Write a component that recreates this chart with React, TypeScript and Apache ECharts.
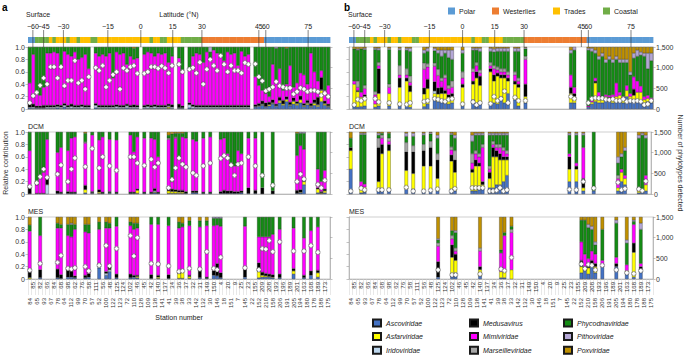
import React, { useEffect, useRef } from 'react';
import * as echarts from 'echarts';

const FONT = '"Liberation Sans", Arial, Helvetica, sans-serif';

// ---------- stations (x categories) ----------
const stationsLow = [84,65,93,67,78,64,112,99,70,57,52,100,122,123,72,110,128,109,138,141,41,39,38,33,142,132,30,146,18,151,7,145,22,152,210,158,206,191,205,194,180,178,188,175];
const stationsHigh = [85,82,66,84,68,98,62,76,58,111,56,48,125,124,102,46,45,42,140,137,34,36,37,32,31,149,150,4,20,9,25,23,155,209,208,193,196,189,201,163,168,189,173];
const stations: string[] = [];
for (let i = 0; i < stationsLow.length; i++) {
  stations.push(String(stationsLow[i]));
  if (i < stationsHigh.length) stations.push(String(stationsHigh[i]));
}

// biome of each station: P polar, W westerlies, T trades, C coastal
const biome = ['P','P','C','C','C','C','T','C','T','T','T','C','T','T','C','T','T','T','C','C',
  'T','T','T','T','T','T','T','T','T','T','T','T','T','T','T','C','T','T','C','C',
  'T','T','T','T','C','C','C','C','C','C','W','W','W','W','W','W','W','W','W','W',
  'W','W','W','W','W','W','W','W','P','P','P','P','P','P','P','P','P','P','P','P',
  'P','P','P','P','P','P','P'];
const biomeKeys = ['P','W','T','C'];
const biomeNames = ['Polar','Westerlies','Trades','Coastal'];
const biomeColors = ['#5b9bd5','#ed7d31','#ffc000','#70ad47'];

const latTickPos = [0.9, 4, 9.7, 22.5, 32, 41.2, 49.6, 66, 68, 80.2];
const latTickLabels = ['\u221260','\u221245','\u221230','\u221215','0','15','30','45','60','75'];

const families = ['Ascoviridae','Asfarviridae','Iridoviridae','Medusavirus','Mimiviridae','Marseilleviridae','Phycodnaviridae','Pithoviridae','Poxviridae'];
const familyColors = ['#4472c4','#ffff00','#bdd7ee','#000000','#ff00ff','#a6a6a6','#148c14','#b4a7d6','#bf9000'];

// ---------- a: Surface (relative contribution, %) ----------
const aSurfIdx = [0,1,2,3,4,5,6,7,8,9,10,11,12,13,14,15,16,17,19,20,21,22,23,24,25,26,27,28,29,30,31,33,34,35,36,37,38,39,40,41,43,44,46,47,48,49,50,51,52,53,54,55,56,57,58,59,60,61,62,63,65,66,67,68,69,70,71,72,73,74,75,76,77,78,79,80,81,82,83,84,85,86];
const aSurfAsco = [2,1,1,1,1,1,1,1,2,1,3,1,1,1,1,1,1,1, 2,1,1,1,1,1,1,1,1,2,1,1,1, 1,1,1,1,1,1,1,1,1, 1,1, 2,1,1,1,1,1,1,1,1,1,1,1,1,1,1,1,1,1, 3,4,6,3,5,8,4,10,6,12,5,8,6,10,4,7,3,6,4,12,6,3];
const aSurfAsfar = [0,0,0,0,0,0,0,0,0,0,0,0,0,0,0,0,0,0, 0,0,0,0,0,0,0,0,0,0,0,0,0, 0,0,0,0,0,0,0,2,0, 0,0, 0,0,0,0,0,0,0,0,0,0,0,0,0,0,0,0,0,0, 0,0,1,0,2,1,0,3,2,3,1,4,2,5,1,2,1,3,2,18,2,1];
const aSurfIrido = [1,2,1,1,1,2,2,2,2,2,3,2,3,2,2,3,2,2, 4,2,2,2,2,2,3,2,2,3,2,2,2, 2,3,2,3,2,2,2,2,2, 1,1, 5,3,2,2,2,2,2,2,2,2,2,2,2,2,2,2,2,2, 1,1,1,1,0,1,1,1,0,1,1,1,1,0,1,1,1,1,1,1,1,1];
const aSurfMedusa = [6,5,3,3,4,3,3,3,3,3,3,3,4,3,3,3,3,3, 3,3,3,3,3,3,3,3,3,3,3,4,3, 3,3,3,3,3,3,3,3,4, 6,3, 3,3,3,3,3,3,3,3,3,3,3,3,3,3,3,3,3,3, 3,4,5,6,4,5,3,5,6,4,4,5,3,6,3,4,4,5,12,20,4,3];
const aSurfMimi = [33,80,20,17,29,84,84,86,83,62,84,82,77,86,74,76,82,59, 81,79,82,79,84,44,85,82,84,64,79,73,76, 82,85,84,78,84,82,84,67,78, 74,57, 55,78,84,82,69,86,76,89,84,79,72,86,82,84,64,87,79,82, 45,29,17,15,9,57,37,46,16,20,59,17,30,37,46,26,81,45,26,11,17,30];
const aSurfPhyco = [58,12,75,78,65,10,10,8,10,32,7,12,15,8,20,17,12,35, 10,15,12,15,10,50,8,12,10,28,15,18,18, 12,8,10,15,10,12,10,25,15, 18,38, 35,15,10,12,25,8,10,5,10,15,22,8,12,10,30,7,15,12, 48,62,70,75,80,28,53,35,70,58,30,65,58,42,45,60,10,40,55,38,70,62];
const aSurfPitho = [0,0,0,0,0,0,0,0,0,0,0,0,0,0,0,0,0,0, 0,0,0,0,0,0,0,0,0,0,0,0,0, 0,0,0,0,0,0,0,0,0, 0,0, 0,0,0,0,0,0,8,0,0,0,0,0,0,0,0,0,0,0, 0,0,0,0,0,0,2,0,0,0,0,0,0,0,0,0,0,0,0,0,0,0];
const aSurfPox = [0,0,0,0,0,0,0,0,0,0,0,0,0,0,0,0,0,0, 0,0,0,0,0,0,0,0,0,0,0,2,0, 0,0,0,0,0,0,0,0,0, 0,0, 0,0,0,0,0,0,0,0,0,0,0,0,0,0,0,0,0,0, 0,0,0,0,0,0,0,0,0,2,0,0,0,0,0,0,0,0,0,0,0,0];
const aSurfDots = [150,320,400,570,750,600,1020,1020,750,1020,560,690,690,1170,630,690,480,780, 1000,930,1050,530,690,830,900,480,990,930,1020,1050,860, 860,900,1020,1020,980,1040,990,870,1050, 1080,900, 960,1000,870,1130,600,960,1200,1050,930,1290,1080,900,1050,930,930,870,1120,1080, 1090,780,680,440,480,530,660,560,530,500,510,360,420,510,480,420,450,450,420,330,380,300];

// ---------- a: DCM ----------
const aDcmIdx = [0,2,3,4,5,8,9,11,12,13,16,18,20,21,23,25,29,30,31,33,35,36,37,40,41,42,43,44,45,47,48,50,52,55,56,57,58,59,60,61,63,65,67,70,77,78,79,83,84,85];
const aDcmAsco = [0,0,0,0,0,1,1,1,1,1, 2,1,1,1,1,1,1,1,1,1, 1,2,1,1,1,1,1,1,1,2, 2,1,1,1,1,1,1,1,1,2, 1,1,0,0,1,2,15,2,1,2];
const aDcmAsfar = [0,0,0,0,0,0,0,0,0,0, 5,0,2,0,0,0,0,0,5,0, 0,1,0,4,3,3,2,2,0,0, 0,0,0,0,0,0,0,0,0,0, 0,0,0,0,0,1,5,6,1,3];
const aDcmIrido = [0,0,0,0,15,0,0,0,0,0, 0,1,0,0,1,0,0,0,0,0, 0,2,0,0,0,0,0,0,0,0, 0,0,0,0,0,0,0,0,0,0, 0,0,0,0,0,0,0,0,0,0];
const aDcmMedusa = [10,1,1,1,10,4,2,3,2,2, 7,2,4,2,2,2,2,2,2,2, 2,4,2,6,4,3,3,3,3,3, 3,2,2,3,5,4,4,3,3,3, 9,5,10,5,5,4,2,2,2,3];
const aDcmMimi = [60,14,24,34,63,62,72,66,87,89, 68,91,80,89,84,84,92,65,84,87, 87,79,57,77,12,83,54,86,86,83, 80,87,89,84,84,60,45,41,66,60, 80,84,0,0,56,71,50,30,16,30];
const aDcmMarse = [0,0,0,0,0,0,0,0,0,0, 2,0,0,0,0,0,0,0,0,0, 0,0,0,2,0,2,0,0,0,0, 0,0,0,0,0,0,0,0,0,0, 0,0,0,0,0,0,0,0,0,0];
const aDcmPhyco = [30,85,75,65,12,33,25,30,10,8, 14,5,13,8,12,13,5,32,8,10, 10,12,40,5,77,6,38,6,10,12, 15,10,8,12,10,35,50,55,30,35, 10,10,90,95,36,20,26,60,80,62];
const aDcmPitho = [0,0,0,0,0,0,0,0,0,0, 0,0,0,0,0,0,0,0,0,0, 0,0,0,0,0,0,0,0,0,0, 0,0,0,0,0,0,0,0,0,0, 0,0,0,0,0,2,2,0,0,0];
const aDcmPox = [0,0,0,0,0,0,0,0,0,0, 2,0,0,0,0,0,0,0,0,0, 0,0,0,5,3,2,2,2,0,0, 0,0,0,0,0,0,0,0,0,0, 0,0,0,0,2,0,0,0,0,0];
const aDcmDots = [180,270,420,600,400,480,700,300,600,870, 660,1100,630,900,680,570,900,900,750,690, 840,650,750,150,350,630,870,720,650,510, 450,680,750,860,930,870,700,450,720,750, 900,680,450,210,300,480,360,230,150,330];

// ---------- a: MES ----------
const aMesIdx = [0,3,8,9,11,12,13,16,17,20,22,23,25,29,30,31,35,37,40,43,44,46,49,51,53,54,55,62,66,67,68,69,70,72,76,79,81,83];
const aMesAsco = [0,2,2,1,3,3,2,2,3,18, 6,12,2,2,3,2,1,1,1,1, 1,1,2,1,6,5,2,3,2,3, 3,3,2,2,8,2,6,3];
const aMesAsfar = [2,0,0,0,0,0,0,0,0,0, 0,0,0,0,0,2,0,2,0,8, 12,3,0,0,0,0,0,0,10,3, 2,1,1,0,5,0,0,7];
const aMesIrido = [0,0,0,0,0,0,0,0,0,4, 3,3,0,0,0,0,0,0,0,0, 0,0,0,0,0,0,0,0,0,0, 0,0,0,0,0,0,0,0];
const aMesMedusa = [10,13,14,6,12,10,3,4,6,3, 3,5,6,6,3,2,6,3,6,1, 1,2,12,2,8,20,8,12,14,5, 4,4,4,6,4,4,7,4];
const aMesMimi = [65,55,66,75,55,55,75,70,65,55, 70,62,77,78,74,76,81,82,79,72, 70,80,70,83,72,62,75,70,42,57, 59,60,65,72,65,60,65,70];
const aMesPhyco = [10,30,8,6,18,20,8,12,14,12, 10,8,15,6,10,8,12,12,14,10, 6,8,10,8,12,11,13,15,32,32, 32,32,28,20,18,34,22,16];
const aMesPitho = [0,0,0,0,0,2,0,0,0,0, 0,0,0,0,0,0,0,0,0,0, 0,0,0,0,2,2,2,0,0,0, 0,0,0,0,0,0,0,0];
const aMesPox = [13,0,10,12,12,10,12,12,12,8, 8,10,0,8,10,10,0,0,0,8, 10,6,6,6,0,0,0,0,0,0, 0,0,0,0,0,0,0,0];
const aMesDots = [210,375,400,570,255,240,270,300,195,330, 810,315,735,1050,555,1000,375,360,315,180, 195,255,240,660,255,225,525,270,225,735, 720,930,660,900,675,675,810,645];

// ---------- b: Surface ----------
const bSurfIdx = [1,2,3,4,7,8,11,14,16,17,21,22,24,25,26,27,28,29,32,35,36,37,40,41,42,43,44,45,47,48,50,63,64,68,69,70,71,72,73,74,75,76,77,78,79,80,81,82,83,84,85,86];
const bSurfAsco = [5,3,4,5,3,5,5,5,5,3, 4,8,15,12,15,10,8,10,5,15, 10,8,10,10,8,20,10,25,15,5, 10,10,10,3,8,12,10,10,15,12, 10,15,12,10,20,15,12,15,12,10, 12,10];
const bSurfAsfar = [35,25,15,15,5,20,20,30,40,25, 20,25,10,12,10,15,10,10,30,25, 40,30,50,35,45,30,40,20,25,30, 10,15,10,0,3,30,5,5,5,5, 8,5,10,5,10,5,10,12,15,5, 5,3];
const bSurfIrido = [0,0,0,0,0,0,0,0,0,0, 0,0,4,0,0,0,0,0,0,0, 0,0,0,0,0,0,0,0,0,0, 0,0,0,0,0,0,0,0,0,0, 0,0,0,0,0,0,0,0,0,0, 0,0];
const bSurfMedusa = [0,2,0,3,0,40,0,15,5,10, 10,15,15,10,10,5,5,5,5,5, 10,15,5,10,5,5,5,5,5,5, 20,10,5,0,0,3,2,2,0,2, 0,0,0,0,0,0,10,0,0,0, 0,0];
const bSurfMimi = [5,5,8,10,15,5,10,5,5,5, 30,20,25,20,10,20,10,10,10,15, 10,5,5,10,5,5,5,5,10,5, 40,20,10,2,3,5,10,3,3,3, 5,22,5,5,8,5,20,18,10,5, 5,5];
const bSurfMarse = [0,10,0,5,5,5,5,15,10,10, 10,5,5,10,5,5,5,10,10,5, 5,5,5,5,5,5,5,5,5,5, 5,0,0,0,0,0,0,0,0,0, 0,0,0,0,0,0,0,0,0,0, 0,0];
const bSurfPhyco = [52,50,70,58,68,20,56,25,30,40, 16,20,20,26,35,35,45,35,30,30, 20,30,18,22,25,28,28,33,33,43, 12,35,60,90,79,40,53,65,52,58, 52,38,48,55,37,30,30,40,50,65, 43,60];
const bSurfPitho = [0,2,0,2,2,3,2,3,3,5, 5,5,4,5,10,5,12,15,5,3, 3,5,5,5,5,5,5,5,5,5, 2,5,5,3,5,5,5,5,5,5, 5,5,5,5,5,5,8,10,5,5, 25,12];
const bSurfPox = [3,3,3,2,2,2,2,2,2,2, 5,2,2,5,5,5,5,5,5,2, 2,2,2,3,2,2,2,2,2,2, 1,5,0,2,2,5,15,10,20,15, 20,15,20,20,20,40,10,5,8,10, 10,10];
const bSurfDots = [100,230,200,250,250,170,150,120,110,150, 180,200,250,230,200,180,230,250,120,170, 100,150,130,300,200,250,430,150,280,200, 200,300,250,150,250,270,260,260,230,220, 240,200,200,240,180,200,190,200,180,100, 120,200];

// ---------- b: DCM ----------
const bDcmIdx = [0,3,4,8,9,11,16,18,21,23,25,29,30,35,36,37,38,40,41,42,43,44,45,63,65,67,70,77,78,79,83,84,85];
const bDcmAsco = [40,2,3,5,5,5,8,8,5,5, 5,8,5,5,5,10,10,10,10,15, 15,20,30,20,20,5,5,5,20,15, 2,3,5];
const bDcmAsfar = [30,10,8,15,60,65,30,25,40,40, 20,45,30,30,40,35,5,15,50,45, 40,35,25,20,20,5,0,5,15,10, 3,2,10];
const bDcmMedusa = [5,0,0,55,15,10,30,35,25,30, 30,10,20,5,10,5,5,10,15,10, 10,5,5,20,5,15,0,0,0,0, 0,0,0];
const bDcmMimi = [0,8,5,0,10,5,0,0,0,0, 0,8,0,10,10,10,55,5,5,5, 10,10,5,5,5,50,0,15,5,5, 5,2,15];
const bDcmMarse = [0,0,0,15,5,5,15,10,10,10, 10,5,15,15,5,5,5,5,5,5, 5,5,5,0,0,0,0,5,0,0, 0,0,0];
const bDcmPhyco = [15,76,80,5,3,8,10,15,15,12, 25,20,20,20,25,30,15,50,10,15, 15,20,25,30,45,20,95,20,20,40, 80,88,60];
const bDcmPitho = [0,2,2,3,0,0,5,5,3,2, 5,2,5,10,3,3,3,3,3,3, 3,3,3,3,3,3,0,10,5,5, 5,3,5];
const bDcmPox = [10,2,2,2,2,2,2,2,2,1, 5,2,5,5,2,2,2,2,2,2, 2,2,2,2,2,2,0,40,35,25, 5,2,5];
const bDcmDots = [70,140,100,100,100,100,160,70,70,90, 120,70,130,150,150,150,150,70,70,90, 150,70,100,110,100,300,140,280,100,130, 120,80,310];

// ---------- b: MES ----------
const bMesIdx = [25,29,30,37,43,44,46,66,67,68,69,70,72,76,79,81,83];
const bMesAsco = [3,5,10,5,2,2,0,10,15,8,25,10,20,20,8,3,15];
const bMesAsfar = [0,30,20,10,10,10,15,10,0,10,0,10,0,0,5,40,0];
const bMesMedusa = [25,20,10,5,0,3,0,10,5,5,5,5,0,5,0,15,5];
const bMesMimi = [25,10,5,25,30,55,60,30,20,10,15,15,10,10,10,30,5];
const bMesMarse = [5,5,5,5,0,0,5,0,0,0,0,0,0,0,0,0,0];
const bMesPhyco = [5,8,25,0,5,5,5,35,55,50,35,15,50,55,35,5,55];
const bMesPitho = [2,0,3,0,0,0,0,0,0,5,5,5,0,5,5,2,10];
const bMesPox = [35,22,22,50,53,25,15,5,5,12,15,40,20,5,37,5,10];
const bMesDots = [220,100,100,120,240,200,520,360,250,350,330,220,330,220,150,130,200];

type Panel = { idx: number[]; fams: (number[] | null)[]; dots: number[] };
const panels: Panel[] = [
  { idx: aSurfIdx, fams: [aSurfAsco, aSurfAsfar, aSurfIrido, aSurfMedusa, aSurfMimi, null, aSurfPhyco, aSurfPitho, aSurfPox], dots: aSurfDots },
  { idx: aDcmIdx, fams: [aDcmAsco, aDcmAsfar, aDcmIrido, aDcmMedusa, aDcmMimi, aDcmMarse, aDcmPhyco, aDcmPitho, aDcmPox], dots: aDcmDots },
  { idx: aMesIdx, fams: [aMesAsco, aMesAsfar, aMesIrido, aMesMedusa, aMesMimi, null, aMesPhyco, aMesPitho, aMesPox], dots: aMesDots },
  { idx: bSurfIdx, fams: [bSurfAsco, bSurfAsfar, bSurfIrido, bSurfMedusa, bSurfMimi, bSurfMarse, bSurfPhyco, bSurfPitho, bSurfPox], dots: bSurfDots },
  { idx: bDcmIdx, fams: [bDcmAsco, bDcmAsfar, null, bDcmMedusa, bDcmMimi, bDcmMarse, bDcmPhyco, bDcmPitho, bDcmPox], dots: bDcmDots },
  { idx: bMesIdx, fams: [bMesAsco, bMesAsfar, null, bMesMedusa, bMesMimi, bMesMarse, bMesPhyco, bMesPitho, bMesPox], dots: bMesDots },
];

const PANEL_LEFT = [28, 349];
const PANEL_W = [302, 304];
const ROW_TOP = [47, 132, 217];
const ROW_H = 62;
const STRIP_TOP = 37;
const STRIP_H = 6;

const PLUS = 'path://M2,0H6V2H8V6H6V8H2V6H0V2H2Z';

function expand(idx: number[], vals: number[]) {
  const out: (number | null)[] = stations.map(() => null);
  idx.forEach((s, k) => {
    const v = vals[k];
    out[s] = v ? v : null;
  });
  return out;
}

function buildOption() {
  const grid: any[] = [];
  const xAxis: any[] = [];
  const yAxis: any[] = [];
  const series: any[] = [];
  const extraX: any[] = [];

  for (let g = 0; g < 6; g++) {
    const col = Math.floor(g / 3);
    const row = g % 3;
    grid.push({ left: PANEL_LEFT[col], top: ROW_TOP[row], width: PANEL_W[col], height: ROW_H, show: true, borderColor: '#b0b0b0', borderWidth: 0.6 });
    const isBottom = row === 2;
    xAxis.push({
      type: 'category', gridIndex: g, data: stations, boundaryGap: true, position: 'bottom',
      axisLine: { show: true, lineStyle: { color: '#9a9a9a', width: 0.6 } },
      axisTick: isBottom ? { show: true, interval: 0, length: 16, lineStyle: { color: '#d0d0d0', width: 0.5 } } : { show: false },
      axisLabel: isBottom ? {
        show: true, rotate: 90, fontSize: 6, margin: 3, color: '#333', fontFamily: FONT,
        interval: (i: number) => i % 2 === 1,
      } : { show: false },
      splitLine: { show: false },
    });
    if (isBottom) {
      extraX.push({
        type: 'category', gridIndex: g, data: stations, boundaryGap: true, position: 'bottom', offset: 0,
        axisLine: { show: false }, axisTick: { show: false }, splitLine: { show: false },
        axisLabel: { show: true, rotate: 90, fontSize: 6, margin: 19, color: '#333', fontFamily: FONT, interval: (i: number) => i % 2 === 0 },
      });
    }
    yAxis.push({
      type: 'value', gridIndex: g, min: 0, max: 100, interval: 20, position: 'left',
      axisLine: { show: true, lineStyle: { color: '#9a9a9a', width: 0.6 } },
      axisTick: { show: true, length: 2.5, lineStyle: { color: '#9a9a9a', width: 0.6 } },
      axisLabel: col === 0 ? { show: true, fontSize: 7, margin: 3, color: '#333', fontFamily: FONT, formatter: (v: number) => (v === 0 ? '0' : (v / 100).toFixed(1)) } : { show: false },
      splitLine: { show: false },
      ...(g === 1 ? { name: 'Relative contribution', nameLocation: 'middle', nameGap: 19, nameTextStyle: { fontSize: 7, color: '#333', fontFamily: FONT } } : {}),
    });
    yAxis.push({
      type: 'value', gridIndex: g, min: 0, max: 1500, interval: 500, position: 'right',
      axisLine: { show: true, lineStyle: { color: '#9a9a9a', width: 0.6 } },
      axisTick: { show: true, length: 2.5, lineStyle: { color: '#9a9a9a', width: 0.6 } },
      axisLabel: col === 1 ? { show: true, fontSize: 7, margin: 3, color: '#333', fontFamily: FONT, formatter: (v: number) => v.toLocaleString('en-US') } : { show: false },
      splitLine: { show: false },
      ...(g === 4 ? { name: 'Number of phylotypes detected', nameLocation: 'middle', nameRotate: -90, nameGap: 26, nameTextStyle: { fontSize: 7, color: '#333', fontFamily: FONT } } : {}),
    });

    const p = panels[g];
    p.fams.forEach((vals, f) => {
      if (!vals) return;
      series.push({
        type: 'bar', name: families[f], xAxisIndex: g, yAxisIndex: 2 * g, stack: 'st' + g,
        barCategoryGap: '0%', data: expand(p.idx, vals),
        itemStyle: { color: familyColors[f], borderColor: '#1a1a1a', borderWidth: 0.3 },
      });
    });
    series.push({
      type: 'scatter', xAxisIndex: g, yAxisIndex: 2 * g + 1, symbol: PLUS, symbolSize: 4.5, z: 10,
      data: p.idx.map((s, k) => [s, p.dots[k]]),
      itemStyle: { color: '#ffffff', borderColor: '#444', borderWidth: 0.4, opacity: 1 },
    });
  }

  // latitude strips
  for (let col = 0; col < 2; col++) {
    const gi = 6 + col;
    grid.push({ left: PANEL_LEFT[col], top: STRIP_TOP, width: PANEL_W[col], height: STRIP_H });
    xAxis.push({ type: 'value', gridIndex: gi, min: -0.5, max: stations.length - 0.5, show: false });
    yAxis.push({ type: 'value', gridIndex: gi, min: 0, max: 1, show: false });
    series.push({
      type: 'custom', xAxisIndex: gi, yAxisIndex: 12 + col,
      data: biome.map((b, i) => [i, biomeKeys.indexOf(b)]),
      renderItem: (params: any, api: any) => {
        const i = api.value(0);
        const c = api.value(1);
        const p0 = api.coord([i - 0.5, 1]);
        const p1 = api.coord([i + 0.5, 0]);
        return { type: 'rect', shape: { x: p0[0], y: p0[1], width: p1[0] - p0[0] + 0.4, height: p1[1] - p0[1] }, style: { fill: biomeColors[c] } };
      },
    });
    series.push({
      type: 'custom', xAxisIndex: gi, yAxisIndex: 12 + col, z: 5,
      data: latTickPos.map((pos, k) => [pos, k]),
      renderItem: (params: any, api: any) => {
        const pos = api.value(0);
        const k = api.value(1);
        const top = api.coord([pos, 1]);
        const bot = api.coord([pos, 0]);
        return {
          type: 'group', children: [
            { type: 'line', shape: { x1: top[0], y1: top[1] - 7, x2: top[0], y2: bot[1] + 4 }, style: { stroke: '#333', lineWidth: 0.6 } },
            { type: 'text', x: top[0], y: top[1] - 7.5, style: { text: latTickLabels[k], fontSize: 7, fill: '#222', fontFamily: FONT, align: 'center', verticalAlign: 'bottom' } },
          ],
        };
      },
    });
  }
  extraX.forEach((a) => xAxis.push(a));

  const T = (x: number, y: number, text: string, extra: any = {}) => ({
    type: 'text', x, y, silent: true,
    style: { text, fontSize: 7, fill: '#222', fontFamily: FONT, verticalAlign: 'middle', ...extra },
  });

  const biomeLegendX = [448, 492, 553, 603];
  const graphic: any[] = [
    T(2, 7, 'a', { fontSize: 10, fontWeight: 'bold', fill: '#000' }),
    T(344, 7, 'b', { fontSize: 10, fontWeight: 'bold', fill: '#000' }),
    T(26, 14, 'Surface'),
    T(348, 14, 'Surface'),
    T(179, 14, 'Latitude (\u00b0N)', { align: 'center' }),
    T(28, 126, 'DCM'), T(349, 126, 'DCM'),
    T(28, 211, 'MES'), T(349, 211, 'MES'),
    T(179, 317, 'Station number', { align: 'center' }),
  ];
  biomeNames.forEach((n, k) => {
    graphic.push({ type: 'rect', silent: true, shape: { x: biomeLegendX[k], y: 7.5, width: 7, height: 7 }, style: { fill: biomeColors[k] } });
    graphic.push(T(biomeLegendX[k] + 11, 11, n));
  });

  const legendLeft = [372, 469, 563];
  const legend = [0, 1, 2].map((c) => ({
    data: families.slice(c * 3, c * 3 + 3), orient: 'vertical', left: legendLeft[c], top: 318.5, height: 60,
    padding: 0, itemWidth: 8, itemHeight: 7, itemGap: 4.6, icon: 'rect', selectedMode: false,
    textStyle: { fontSize: 7, fontStyle: 'italic', color: '#222', fontFamily: FONT },
  }));

  return {
    animation: false,
    backgroundColor: '#ffffff',
    textStyle: { fontFamily: FONT },
    grid, xAxis, yAxis, series, graphic, legend,
  };
}

export default function App() {
  const ref = useRef<HTMLDivElement>(null);
  useEffect(() => {
    if (!ref.current) return;
    const chart = echarts.init(ref.current, null, { renderer: 'svg' });
    chart.setOption(buildOption() as any);
    return () => chart.dispose();
  }, []);
  return <div ref={ref} style={{ position: 'absolute', left: 0, top: 0, width: 685, height: 355, background: '#fff' }} />;
}
